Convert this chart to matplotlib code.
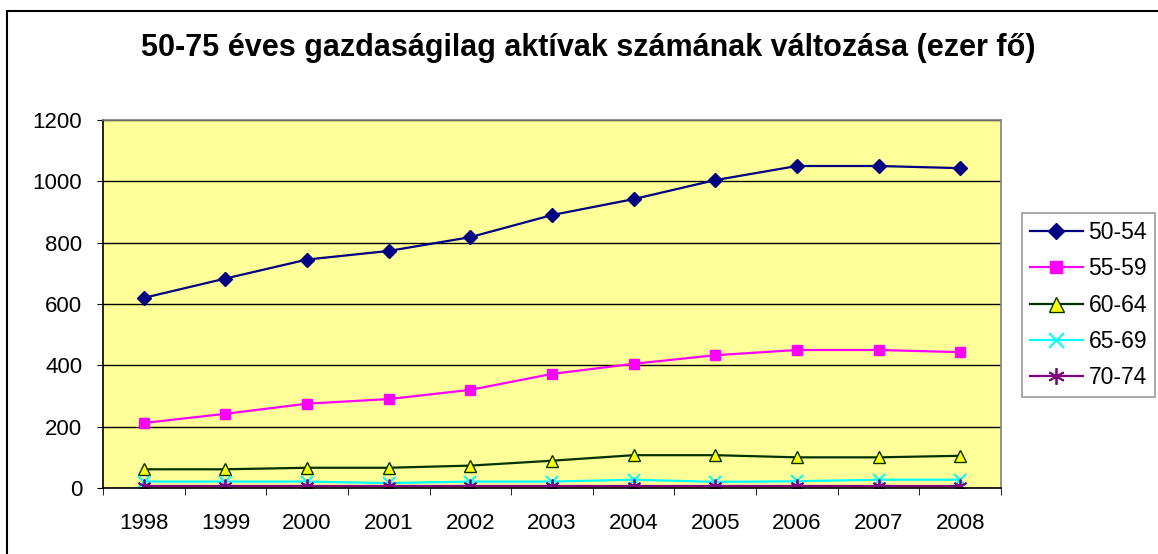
import matplotlib.pyplot as plt
from matplotlib.patches import Rectangle

plt.rcParams['font.family'] = ['Liberation Sans', 'DejaVu Sans']

years = ['1998', '1999', '2000', '2001', '2002', '2003', '2004', '2005', '2006', '2007', '2008']
age_50_54 = [620, 683, 745, 773, 818, 890, 942, 1004, 1050, 1050, 1043]
age_55_59 = [212, 242, 275, 290, 320, 372, 405, 433, 450, 450, 443]
age_60_64 = [61, 61, 66, 66, 73, 89, 107, 107, 100, 100, 105]
age_65_69 = [21, 21, 21, 16, 21, 21, 27, 20, 22, 27, 27]
age_70_74 = [5, 5, 5, 5, 5, 5, 5, 5, 5, 5, 5]

title = "50-75 éves gazdaságilag aktívak számának változása (ezer fő)"

fig = plt.figure(figsize=(11.58, 5.54), dpi=100)
ax = fig.add_axes([103 / 1158, 66 / 554, 898 / 1158, 368 / 554])
ax.set_facecolor('#FFFF99')

x = range(len(years))
asterisk = (6, 2, 0)

ax.plot(x, age_50_54, color='#000080', lw=1.6, marker='D', ms=7,
        mfc='#000080', mec='#000080', label='50-54')
ax.plot(x, age_55_59, color='#FF00FF', lw=1.6, marker='s', ms=7,
        mfc='#FF00FF', mec='#FF00FF', label='55-59')
ax.plot(x, age_60_64, color='#003300', lw=1.6, marker='^', ms=9,
        mfc='#FFFF00', mec='#003300', label='60-64')
ax.plot(x, age_65_69, color='#00FFFF', lw=1.6, marker='x', ms=9,
        mew=1.5, mec='#00FFFF', label='65-69')
ax.plot(x, age_70_74, color='#800080', lw=1.6, marker=asterisk, ms=10,
        mew=1.3, mec='#800080', label='70-74')

ax.set_xlim(-0.5, len(years) - 0.5)
ax.set_ylim(0, 1200)
ax.set_yticks(range(0, 1201, 200))
ax.yaxis.grid(True, color='black', lw=1)
ax.set_axisbelow(True)

ax.set_xticks(x)
ax.set_xticklabels(years, fontsize=16)
ax.set_xticks([i - 0.5 for i in range(len(years) + 1)], minor=True)
ax.tick_params(axis='x', which='major', length=0, pad=18)
ax.tick_params(axis='x', which='minor', length=5, color='black', direction='out')
ax.tick_params(axis='y', labelsize=16, length=4, direction='out', pad=11)

ax.spines['left'].set_color('black')
ax.spines['bottom'].set_color('black')
ax.spines['top'].set_color('#808080')
ax.spines['right'].set_color('#808080')
for s in ax.spines.values():
    s.set_linewidth(1.2)

fig.text(588 / 1158, 1 - 48 / 554, title, ha='center', va='center',
         fontsize=22, fontweight='bold')

leg = fig.legend(loc='upper left', bbox_to_anchor=(1022 / 1158, 1 - 213 / 554),
                 frameon=True, fancybox=False, fontsize=16.5, handlelength=2.3,
                 labelspacing=0.58, borderpad=0.35, handletextpad=0.25,
                 borderaxespad=0, markerscale=1.2)
leg.get_frame().set_edgecolor('#808080')
leg.get_frame().set_linewidth(1.2)

fig.patches.append(Rectangle((7 / 1158, -0.05), 1.1, 1.05 - 11 / 554,
                             transform=fig.transFigure, fill=False,
                             edgecolor='black', lw=1.5))

fig.savefig('out.png', dpi=100)
